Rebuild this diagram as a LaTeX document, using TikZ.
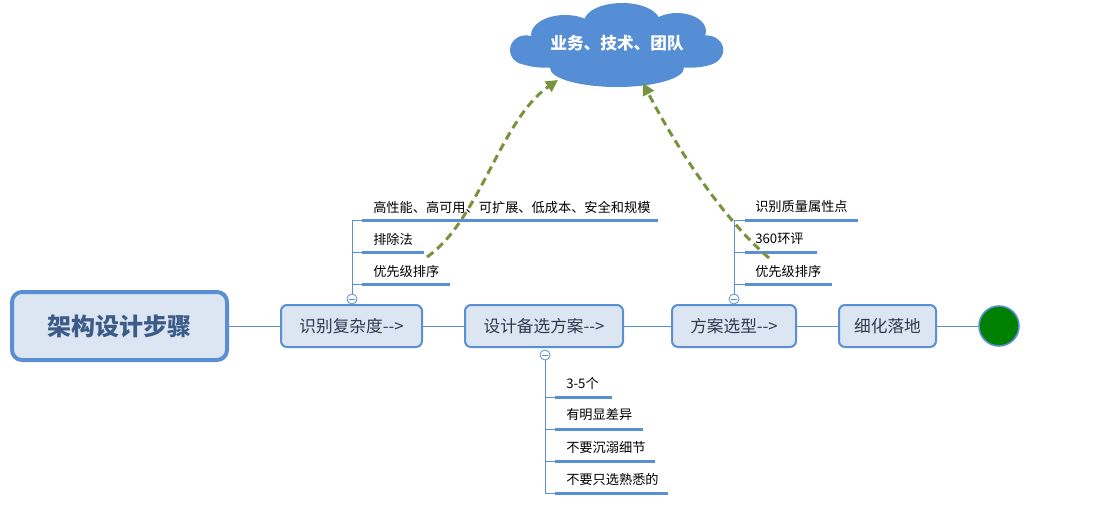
\documentclass[tikz,border=0pt]{standalone}
\usepackage{fontspec}
\setmainfont{Noto Sans CJK SC}
\usetikzlibrary{arrows.meta}
\definecolor{bord}{HTML}{5B8FD4}
\definecolor{boxfill}{HTML}{DCE6F2}
\definecolor{boxtext}{HTML}{2B3A4F}
\definecolor{roottext}{HTML}{3B5B88}
\definecolor{cloudblue}{HTML}{558ED5}
\definecolor{arrowgreen}{HTML}{77933C}
\definecolor{dotgreen}{HTML}{008000}
\tikzset{
  stepbox/.style={draw=bord, line width=1.5pt, fill=boxfill, rounded corners=4.5pt,
    minimum height=31.5pt, inner sep=0pt, text=boxtext, font=\fontsize{12.5}{14}\selectfont},
  rootbox/.style={draw=bord, line width=3pt, fill=boxfill, rounded corners=7.5pt,
    minimum width=161.25pt, minimum height=51pt, inner sep=0pt, text=roottext,
    font=\fontsize{18}{20}\selectfont\bfseries},
  link/.style={draw=bord, line width=0.75pt},
  under/.style={draw=bord, line width=2.25pt},
  leaf/.style={anchor=west, inner sep=0pt, font=\fontsize{9.9}{11}\selectfont, text=black},
  collapse/.style={circle, draw=bord, line width=0.6pt, fill=white, minimum size=7.5pt, inner sep=0pt},
  greenarrow/.style={draw=arrowgreen, line width=2.25pt, dash pattern=on 6pt off 3.75pt,
    -{Triangle[length=9pt,width=9pt]}},
  puff/.style={fill=cloudblue, draw=none},
}
\begin{document}
\begin{tikzpicture}[x=0.75pt,y=-0.75pt]
\useasboundingbox (0,0) rectangle (1097,528);
% main chain
\node[rootbox] (root) at (119.5,326) {架构设计步骤};
\node[stepbox, minimum width=105.75pt] (b1) at (351.5,326) {识别复杂度-{}->};
\node[stepbox, minimum width=118.5pt] (b2) at (544,326) {设计备选方案-{}->};
\node[stepbox, minimum width=93pt] (b3) at (734,326) {方案选型-{}->};
\node[stepbox, minimum width=72.75pt] (b4) at (887.5,326) {细化落地};
\node[circle, draw=bord, line width=1.2pt, fill=dotgreen, minimum size=30pt, inner sep=0pt] (end) at (999,326) {};
\draw[link] (root.east) -- (b1.west);
\draw[link] (b1.east) -- (b2.west);
\draw[link] (b2.east) -- (b3.west);
\draw[link] (b3.east) -- (b4.west);
\draw[link] (b4.east) -- (end.west);
% cloud
\fill[puff] (617,50) ellipse [x radius=63.75pt, y radius=18.75pt];
\fill[puff] (526,50) ellipse [x radius=12pt, y radius=11pt];
\fill[puff] (565,35) ellipse [x radius=25.5pt, y radius=15pt];
\fill[puff] (622,22) ellipse [x radius=28.5pt, y radius=14.25pt];
\fill[puff] (677,31) ellipse [x radius=21.75pt, y radius=13.5pt];
\fill[puff] (706,50) ellipse [x radius=13pt, y radius=11pt];
\fill[puff] (617,68) ellipse [x radius=50.25pt, y radius=14.25pt];
\fill[puff] (545,57) ellipse [x radius=22.5pt, y radius=8pt];
\fill[puff] (690,57) ellipse [x radius=22.5pt, y radius=8pt];
\node[inner sep=0pt, text=white, font=\fontsize{12.5}{14}\selectfont\bfseries] (cloud) at (617,43) {业务、技术、团队};
% branch 1
\node[collapse] (k1) at (352,299) {};
\draw[bord, line width=0.6pt] ([xshift=1.5pt]k1.west) -- ([xshift=-1.5pt]k1.east);
\coordinate (a1) at (362,220); \coordinate (a1e) at (658,220);
\coordinate (a2) at (362,252); \coordinate (a2e) at (424,252);
\coordinate (a3) at (362,284); \coordinate (a3e) at (450,284);
\draw[link] (k1.north) -- (352,220) -- (a1);
\draw[link] (352,252) -- (a2);
\draw[link] (352,284) -- (a3);
\draw[under] (a1) -- (a1e);
\draw[under] (a2) -- (a2e);
\draw[under] (a3) -- (a3e);
\node[leaf] (t1) at (373,207) {高性能、高可用、可扩展、低成本、安全和规模};
\node[leaf] (t2) at (373,239) {排除法};
\node[leaf] (t3) at (373,271) {优先级排序};
% branch 3
\node[collapse] (k3) at (734,299) {};
\draw[bord, line width=0.6pt] ([xshift=1.5pt]k3.west) -- ([xshift=-1.5pt]k3.east);
\coordinate (c1) at (745,220); \coordinate (c1e) at (858,220);
\coordinate (c2) at (745,252); \coordinate (c2e) at (817,252);
\coordinate (c3) at (745,284); \coordinate (c3e) at (832,284);
\draw[link] (k3.north) -- (734,220) -- (c1);
\draw[link] (734,252) -- (c2);
\draw[link] (734,284) -- (c3);
\draw[under] (c1) -- (c1e);
\draw[under] (c2) -- (c2e);
\draw[under] (c3) -- (c3e);
\node[leaf] (s1) at (755,207) {识别质量属性点};
\node[leaf] (s2) at (755,239) {360环评};
\node[leaf] (s3) at (755,271) {优先级排序};
% branch 2
\node[collapse] (k2) at (545,355) {};
\draw[bord, line width=0.6pt] ([xshift=1.5pt]k2.west) -- ([xshift=-1.5pt]k2.east);
\coordinate (d1) at (555,397); \coordinate (d1e) at (612,397);
\coordinate (d2) at (555,429); \coordinate (d2e) at (643,429);
\coordinate (d3) at (555,461); \coordinate (d3e) at (655,461);
\coordinate (d4) at (555,493); \coordinate (d4e) at (668,493);
\draw[link] (k2.south) -- (545,493) -- (d4);
\draw[link] (545,397) -- (d1);
\draw[link] (545,429) -- (d2);
\draw[link] (545,461) -- (d3);
\draw[under] (d1) -- (d1e);
\draw[under] (d2) -- (d2e);
\draw[under] (d3) -- (d3e);
\draw[under] (d4) -- (d4e);
\node[leaf] (r1) at (566,383) {3-5个};
\node[leaf] (r2) at (566,415) {有明显差异};
\node[leaf] (r3) at (566,447) {不要沉溺细节};
\node[leaf] (r4) at (566,479) {不要只选熟悉的};
% green arrows
\coordinate (g1s) at (427,257); \coordinate (g1e) at (558,80);
\coordinate (g2s) at (769,258); \coordinate (g2e) at (643,83);
\draw[greenarrow] (g1s) .. controls (480,220) and (500,120) .. (g1e);
\draw[greenarrow] (g2s) .. controls (722,218) and (675,145) .. (g2e);
\end{tikzpicture}
\end{document}
